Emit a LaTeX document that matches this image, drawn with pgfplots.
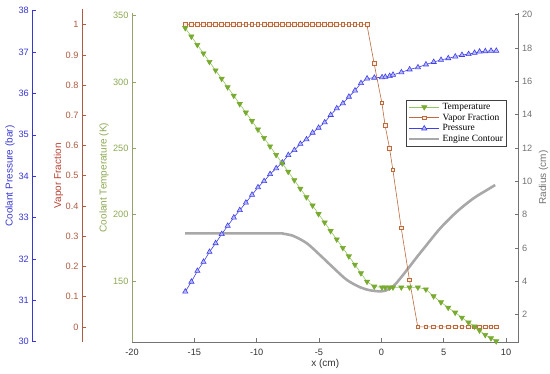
\documentclass[border=0pt]{standalone}
\usepackage{fontspec}
\setmainfont{Liberation Sans}
\newfontfamily\legfont{Liberation Serif}
\usepackage{pgfplots}
\pgfplotsset{compat=1.18}
\usepackage{pgfplotstable}

\definecolor{tempc}{rgb}{0.47,0.67,0.19}
\definecolor{templine}{rgb}{0.58,0.78,0.38}
\definecolor{vapc}{rgb}{0.74,0.42,0.24}
\definecolor{vapfill}{rgb}{1.0,0.93,0.9}
\definecolor{presc}{rgb}{0.25,0.25,0.9}
\definecolor{presfill}{rgb}{0.72,0.72,1.0}
\definecolor{contc}{rgb}{0.66,0.66,0.66}
\definecolor{pax}{rgb}{0.22,0.22,0.82}
\definecolor{vax}{rgb}{0.68,0.36,0.26}
\definecolor{vlab}{rgb}{0.72,0.26,0.2}
\definecolor{tax}{rgb}{0.58,0.64,0.42}
\definecolor{tlab}{rgb}{0.55,0.66,0.33}
\definecolor{rax}{rgb}{0.45,0.45,0.45}
\definecolor{xax}{rgb}{0.45,0.45,0.45}
\definecolor{xlab}{rgb}{0.2,0.2,0.2}

\pgfplotstableread{
x T VF P
-15.73 340.7 1 31.21
-15.24 334.3 1 31.45
-14.76 328.0 1 31.71
-14.27 321.6 1 31.93
-13.79 315.2 1 32.17
-13.30 308.8 1 32.38
-12.81 302.5 1 32.60
-12.33 296.1 1 32.80
-11.84 289.7 1 33.00
-11.36 283.4 1 33.18
-10.87 277.0 1 33.36
-10.38 270.6 1 33.55
-9.90 264.2 1 33.73
-9.41 257.9 1 33.88
-8.93 251.5 1 34.05
-8.44 245.1 1 34.19
-7.95 238.7 1 34.33
-7.47 232.4 1 34.51
-6.98 226.0 1 34.63
-6.50 219.6 1 34.78
-6.01 213.2 1 34.89
-5.52 206.9 1 35.05
-5.04 200.5 1 35.17
-4.55 194.1 1 35.30
-4.07 187.7 1 35.48
-3.58 181.4 1 35.64
-3.09 175.0 1 35.76
-2.61 168.6 1 35.92
-2.12 162.3 1 36.07
-1.64 155.9 1 36.25
-1.15 149.5 1 36.36
-0.57 145.8 0.871 36.38
0.05 145.2 0.741 36.39
0.31 145.2 0.666 36.40
0.66 145.2 0.592 36.42
0.93 145.2 0.520 36.45
1.60 145.2 0.328 36.51
2.26 145.2 0.156 36.58
2.93 145.2 0 36.63
3.57 143.7 0 36.70
4.19 138.5 0 36.76
4.78 134.0 0 36.81
5.36 129.9 0 36.85
5.92 126.2 0 36.89
6.46 122.4 0 36.93
6.99 118.7 0 36.95
7.47 115.7 0 36.98
7.87 112.7 0 37.01
8.33 109.4 0 37.02
8.79 106.9 0 37.03
9.21 104.6 0 37.03
}\datatab

\pgfplotstableread{
x r
-15.73 6.88
-8.5 6.88
-7.9 6.86
-7.05 6.72
-5.97 6.28
-4.90 5.56
-3.83 4.80
-2.76 4.08
-1.69 3.64
-0.89 3.46
-0.09 3.40
0.40 3.46
0.98 3.72
1.38 4.05
2.05 4.68
2.98 5.58
3.38 5.95
4.72 7.18
6.06 8.18
7.39 8.98
8.47 9.48
9.13 9.78
}\contab

\pgfplotsset{
  every axis/.append style={
    scale only axis,
    font=\fontsize{9.2bp}{11bp}\selectfont,
    /pgf/number format/assume math mode=true,
    major tick length=4bp,
    every axis label/.append style={font=\fontsize{10bp}{12bp}\selectfont},
  },
}

\begin{document}
\begin{tikzpicture}
\path[use as bounding box] (0,0) rectangle (550bp,374bp);

% Radius axis (engine contour)
\begin{axis}[
  at={(132bp,32bp)}, anchor=south west,
  width=386.5bp, height=329bp,
  xmin=-20, xmax=11, ymin=0.36, ymax=20.1,
  hide x axis, axis y line*=right,
  ytick={2,4,...,20},
  y axis line style={rax, line width=0.6bp},
  ytick style={rax, line width=0.6bp},
  yticklabel style={rax},
  ylabel={Radius (cm)},
  ylabel style={rax, at={([xshift=25bp]rel axis cs:1,0.5)}, anchor=center},
]
\addplot[contc, line width=2.6bp, smooth, no markers] table[x=x,y=r]{\contab};
\end{axis}

% Pressure axis
\begin{axis}[
  at={(32.3bp,32.3bp)}, anchor=south west,
  width=486.3bp, height=331bp,
  xmin=-28, xmax=11, ymin=30, ymax=38,
  hide x axis, axis y line*=left,
  ytick={30,31,...,38},
  y axis line style={pax, line width=0.6bp},
  ytick style={pax, line width=0.6bp},
  yticklabel style={pax},
  ylabel={Coolant Pressure (bar)},
  ylabel style={pax, at={([xshift=-22.3bp]rel axis cs:0,0.5)}, anchor=center},
]
\addplot[presc, line width=0.6bp, mark=triangle*, mark size=3bp,
  mark options={fill=presfill, draw=presc, solid, line width=0.6bp}] table[x=x,y=P]{\datatab};
\end{axis}

% Vapor fraction axis
\begin{axis}[
  at={(82bp,32bp)}, anchor=south west,
  width=436.4bp, height=332.5bp,
  xmin=-24, xmax=11, ymin=-0.05, ymax=1.05,
  hide x axis, axis y line*=left,
  ytick={0,0.1,0.2,0.3,0.4,0.5,0.6,0.7,0.8,0.9,1},
  yticklabel style={vax, /pgf/number format/fixed, /pgf/number format/precision=1},
  y axis line style={vax, line width=0.6bp},
  ytick style={vax, line width=0.6bp},
  ylabel={Vapor Fraction},
  ylabel style={vlab, at={([xshift=-23.5bp]rel axis cs:0,0.5)}, anchor=center},
]
\addplot[vapc, line width=0.6bp, mark=square*, mark size=1.9bp,
  mark options={fill=vapfill, draw=vapc, solid, line width=0.6bp}] table[x=x,y=VF]{\datatab};
\end{axis}

% Temperature (main) axis
\begin{axis}[
  at={(132bp,32bp)}, anchor=south west,
  width=386.5bp, height=329bp,
  xmin=-20, xmax=11, ymin=104, ymax=352,
  axis x line*=bottom, axis y line*=left,
  xtick={-20,-15,...,10},
  ytick={150,200,...,350},
  x axis line style={xax, line width=0.6bp},
  xtick style={xax, line width=0.6bp},
  xticklabel style={xlab, yshift=-4bp},
  y axis line style={tax, line width=0.6bp},
  ytick style={tax, line width=0.6bp},
  yticklabel style={tlab},
  xlabel={x (cm)},
  xlabel style={xlab, at={([yshift=-22bp]rel axis cs:0.5,0)}, anchor=center},
  ylabel={Coolant Temperature (K)},
  ylabel style={tlab, at={([xshift=-28bp]rel axis cs:0,0.5)}, anchor=center},
  legend cell align=left,
  legend image code/.code={\draw[mark repeat=2,mark phase=2,#1] plot coordinates {(0bp,0bp) (15bp,0bp) (30bp,0bp)};},
  legend style={at={(0.9695,0.7356)}, anchor=north east,
    draw=black!75, line width=0.5bp, fill=white,
    font=\legfont\fontsize{9.5bp}{10.7bp}\selectfont,
    inner sep=1.5bp, row sep=0pt,
    nodes={inner xsep=2bp, inner ysep=1bp, text height=6.6bp, text depth=2.1bp}},
]
\addplot[templine, line width=0.6bp, mark=triangle*, mark size=3bp,
  mark options={rotate=180, fill=tempc, draw=tempc, solid}] table[x=x,y=T]{\datatab};
\addlegendentry{Temperature}
\addlegendimage{vapc, line width=0.6bp, mark=square*, mark size=1.9bp, mark options={fill=vapfill, draw=vapc, solid}}
\addlegendentry{Vapor Fraction}
\addlegendimage{presc, line width=0.6bp, mark=triangle*, mark size=3bp, mark options={fill=presfill, draw=presc, solid}}
\addlegendentry{Pressure}
\addlegendimage{contc, line width=2.6bp}
\addlegendentry{Engine Contour}
\end{axis}
\end{tikzpicture}
\end{document}
